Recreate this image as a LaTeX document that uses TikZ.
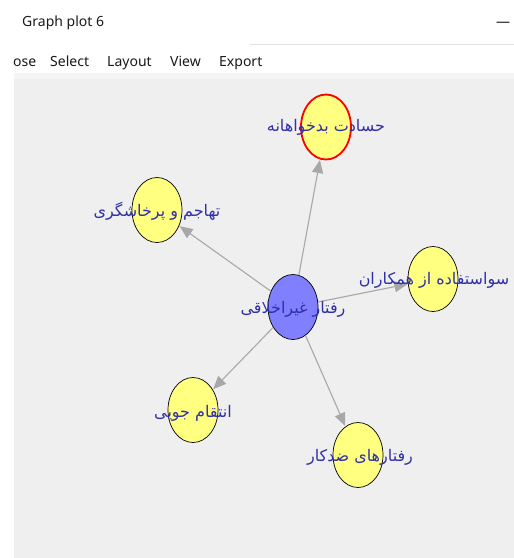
\documentclass[tikz,border=0pt]{standalone}
\usepackage{fontspec}
\setmainfont{Noto Sans}
\TeXXeTstate=1
\newfontfamily\arabicfont[Script=Arabic]{DejaVu Sans}
\usetikzlibrary{shapes.geometric,arrows.meta}

\definecolor{canvas}{HTML}{EFEFEF}
\definecolor{canvastop}{HTML}{F5F5F5}
\definecolor{nodeyellow}{HTML}{FFFF80}
\definecolor{nodeblue}{HTML}{8080FF}
\definecolor{edgegray}{HTML}{A8A8A8}
\definecolor{labelblue}{HTML}{3030A8}
\definecolor{menutext}{HTML}{1A1A1A}

\tikzset{
  vertex/.style={ellipse, draw=black, line width=0.7pt, fill=nodeyellow,
    minimum width=50pt, minimum height=65pt, inner sep=0pt},
  hub/.style={vertex, fill=nodeblue},
  marked/.style={vertex, draw=red, line width=1.8pt},
  link/.style={draw=edgegray, line width=1.1pt,
    -{Triangle[length=13pt,width=11pt]}, shorten >=0.5pt},
  vlabel/.style={inner sep=0pt, text=labelblue, font=\arabicfont\fontsize{16}{19}\selectfont},
  menuitem/.style={anchor=base west, inner sep=0pt, text=menutext, font=\fontsize{14}{16}\selectfont}
}

\begin{document}
\begin{tikzpicture}[x=1pt,y=-1pt]
  \useasboundingbox (0,0) rectangle (514,558);
  \fill[white] (0,0) rectangle (514,558);

  % window title bar
  \node[menuitem] (title) at (22,26) {Graph plot 6};
  \node[menuitem] (minimize) at (496,26) {—};
  \draw[draw=black!12, line width=0.8pt] (250,44) -- (514,44);

  % menu bar
  \node[menuitem] (mclose) at (13,66) {ose};
  \node[menuitem] (mselect) at (50,66) {Select};
  \node[menuitem] (mlayout) at (107,66) {Layout};
  \node[menuitem] (mview) at (170,66) {View};
  \node[menuitem] (mexport) at (219,66) {Export};

  % drawing canvas
  \fill[canvas] (14,73) rectangle (514,558);
  \fill[canvastop] (14,73) rectangle (514,79);

  % vertices
  \node[hub]    (center) at (293,307) {};
  \node[marked] (envy)   at (326,127) {};
  \node[vertex] (aggr)   at (157,210) {};
  \node[vertex] (abuse)  at (433,279) {};
  \node[vertex] (reven)  at (193,410) {};
  \node[vertex] (cwb)    at (358,455) {};

  % edges
  \draw[link] (center) -- (envy);
  \draw[link] (center) -- (aggr);
  \draw[link] (center) -- (abuse);
  \draw[link] (center) -- (reven);
  \draw[link] (center) -- (cwb);

  % vertex labels
  \node[vlabel] (center-l) at (293,309) {\beginR رفتار غیراخلاقی\endR};
  \node[vlabel] (envy-l)   at (326,127) {\beginR حسادت بدخواهانه\endR};
  \node[vlabel] (aggr-l)   at (157,211) {\beginR تهاجم و پرخاشگری\endR};
  \node[vlabel] (abuse-l)  at (434,280) {\beginR سواستفاده از همکاران\endR};
  \node[vlabel] (reven-l)  at (193,413) {\beginR انتقام جویی\endR};
  \node[vlabel] (cwb-l)    at (360,457) {\beginR رفتارهای ضدکار\endR};
\end{tikzpicture}
\end{document}
